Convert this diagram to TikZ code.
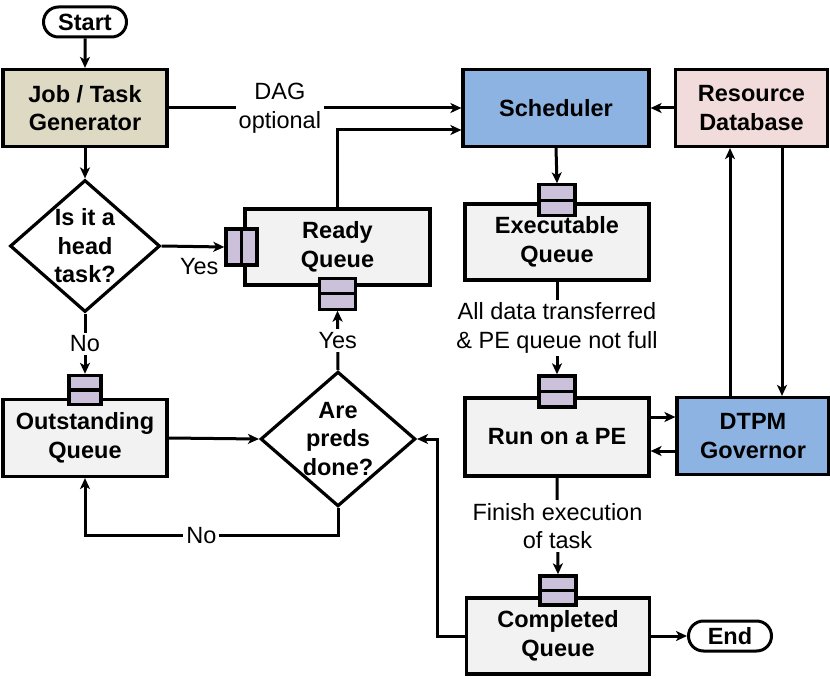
\documentclass[tikz,border=0pt]{standalone}
\usepackage{fontspec}
\setmainfont{Liberation Sans}
\usetikzlibrary{shapes.geometric,shapes.misc,arrows.meta}

\definecolor{gentan}{HTML}{DDD9C3}
\definecolor{schedblue}{HTML}{8DB3E2}
\definecolor{dbpink}{HTML}{F2DCDB}
\definecolor{qgray}{HTML}{F2F2F2}
\definecolor{qpurple}{HTML}{CCC1DA}

\newcommand{\flowfont}{\fontsize{23.5}{28.5}\selectfont}

\tikzset{
  blk/.style={draw, line width=3.2pt, fill=qgray, minimum width=184pt,
    minimum height=77pt, inner sep=0pt, align=center, font=\flowfont\bfseries},
  term/.style={rounded rectangle, draw, line width=3pt, fill=white,
    minimum width=83pt, minimum height=30pt, inner sep=0pt, font=\flowfont\bfseries},
  decide/.style={diamond, aspect=1.15, draw, line width=3.2pt, fill=white,
    minimum width=150pt, minimum height=132pt, inner sep=0pt, align=center,
    font=\flowfont\bfseries},
  qhor/.style={draw, line width=3.2pt, fill=qpurple, minimum width=36pt,
    minimum height=31pt, inner sep=0pt,
    path picture={\draw[line width=3.2pt] (path picture bounding box.west)
      -- (path picture bounding box.east);}},
  qver/.style={draw, line width=3.2pt, fill=qpurple, minimum width=31pt,
    minimum height=36pt, inner sep=0pt,
    path picture={\draw[line width=3.2pt] (path picture bounding box.north)
      -- (path picture bounding box.south);}},
  lbl/.style={align=center, font=\flowfont, fill=white, inner sep=3pt},
  flow/.style={line width=3pt, -{Stealth[length=11pt,width=10pt,inset=3pt]}},
}

\begin{document}
\begin{tikzpicture}[x=1pt, y=-1pt]
\useasboundingbox (0,0) rectangle (830,679);

% terminals and blocks
\node [term] (start) at (85,22) {Start};
\node [blk, fill=gentan, minimum width=164pt] (jobgen) at (85,108) {Job / Task\\Generator};
\node [blk, fill=schedblue, minimum width=186pt] (sched) at (556,108) {Scheduler};
\node [blk, fill=dbpink, minimum width=152pt] (resdb) at (751.5,108) {Resource\\Database};
\node [decide] (head) at (85,246) {Is it a\\head\\task?};
\node [blk, minimum width=185pt, minimum height=76pt] (ready) at (337.5,247) {Ready\\Queue};
\node [blk, minimum height=76pt] (exec) at (557,242) {Executable\\Queue};
\node [blk, minimum height=78pt] (pe) at (557,437) {Run on a PE};
\node [blk, fill=schedblue, minimum width=152pt] (dtpm) at (753,436) {DTPM\\Governor};
\node [blk, minimum width=164pt] (outst) at (85,438) {Outstanding\\Queue};
\node [decide] (preds) at (338,439) {Are\\preds\\done?};
\node [blk, minimum width=183pt, minimum height=76pt] (compl) at (558,636) {Completed\\Queue};
\node [term] (end) at (730,636) {End};

% queue icons
\node [qver] (readyL) at ([xshift=-2pt]ready.west) {};
\node [qhor] (readyB) at ([yshift=-7pt]ready.south) {};
\node [qhor] (execT) at ([yshift=2pt]exec.north) {};
\node [qhor] (peT) at ([yshift=5pt]pe.north) {};
\node [qhor, minimum width=32pt, minimum height=29pt] (outstT) at ([yshift=8pt]outst.north) {};
\node [qhor, minimum height=29pt] (complT) at ([yshift=6pt]compl.north) {};

%%%%%%%%%%%%%%%%%%%%%%%%%%%%%%%%%%%%%%%%

\draw [flow] (start) -- (jobgen);
\draw [flow] (jobgen) -- (head);
\draw [flow] (jobgen.east) -- node[lbl, pos=0.38]{DAG\\optional} (sched.west);
\draw [flow] (ready.north) |- ([yshift=-22pt]sched.west);
\draw [flow] (resdb.west) -- (sched.east);
\draw [flow] (sched.south) -- (execT.north);
\draw [flow] (exec.south) -- node[lbl]{All data transferred\\\& PE queue not full} (peT.north);
\draw [flow] ([yshift=20pt]pe.east) -- ([yshift=20pt]pe.east -| dtpm.west);
\draw [flow] ([yshift=-15pt]dtpm.west) -- ([yshift=-15pt]dtpm.west -| pe.east);
\draw [flow] ([xshift=-23pt]dtpm.north) -- ([xshift=-23pt]dtpm.north |- resdb.south);
\draw [flow] ([xshift=29pt]dtpm.north |- resdb.south) -- ([xshift=29pt]dtpm.north);
\draw [flow] (pe.south) -- node[lbl]{Finish execution\\of task} (complT.north);
\draw [flow] (compl.east) -- (end.west);

\draw [flow] (head.east) -- node[lbl, fill=none, below=7pt, pos=0.6]{Yes} (readyL.west);
\draw [flow] (head.south) -- node[lbl]{No} (outstT.north);
\draw [flow] (outst.east) -- (preds.west);
\draw [flow] (preds.north) -- node[lbl]{Yes} (readyB.south);
\draw [flow] (preds.south) -- ++(0,28) -| node[lbl, pos=0.27]{No} (outst.south);
\draw [flow] (compl.west) -- ++(-27,0) |- (preds.east);

\end{tikzpicture}
\end{document}
